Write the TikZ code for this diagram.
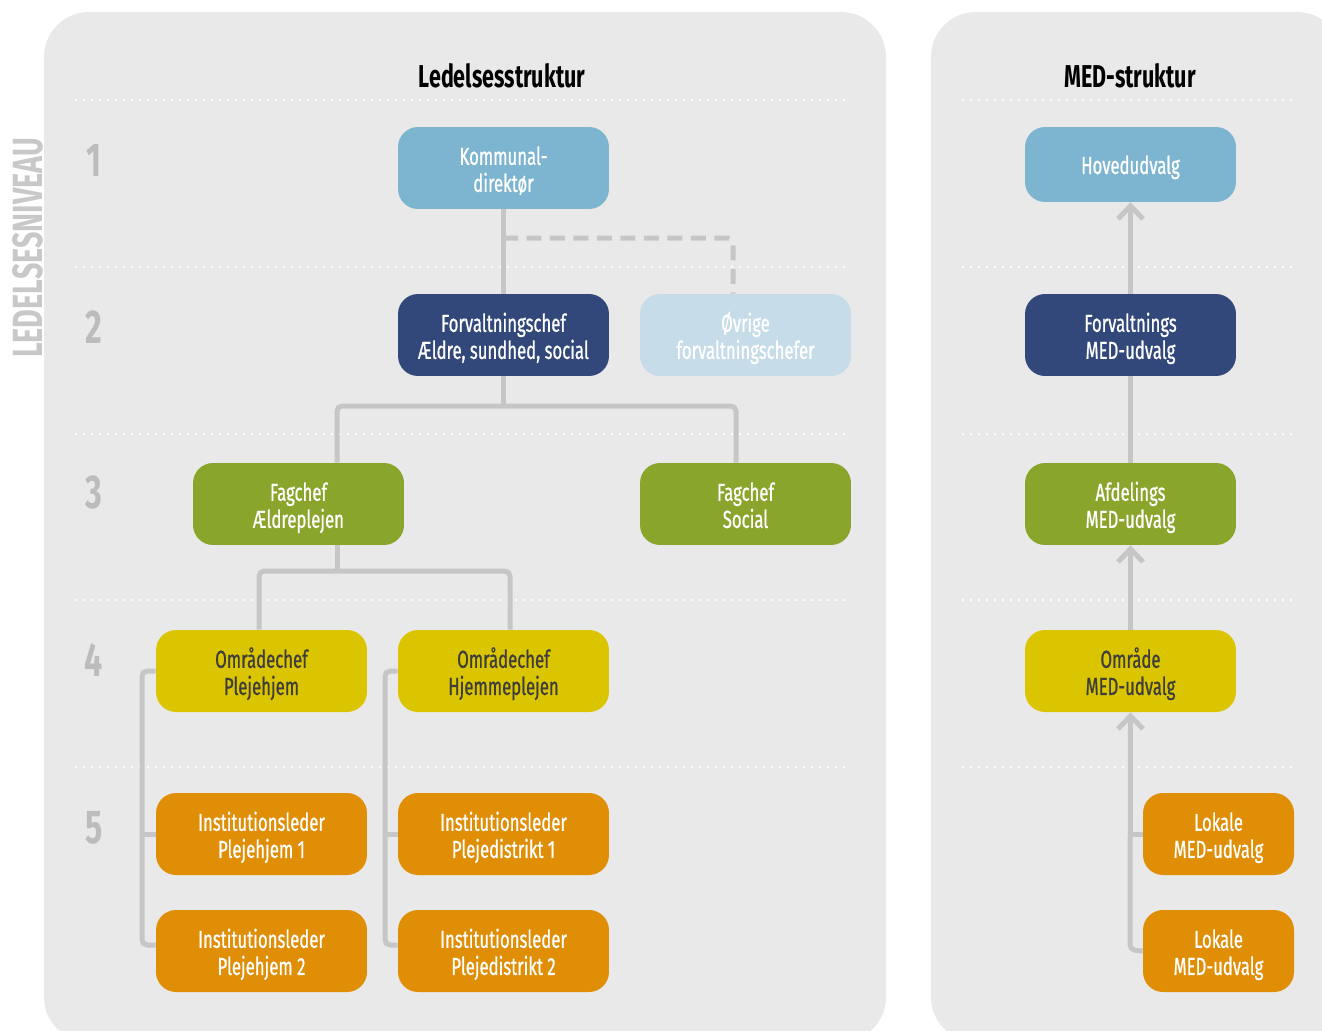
\documentclass[tikz,border=0pt]{standalone}
\usepackage{fontspec}
\setmainfont{Fira Sans}[FakeStretch=0.68]
\usetikzlibrary{arrows.meta,calc}
\definecolor{panelc}{HTML}{E9E9E9}
\definecolor{connc}{HTML}{C6C6C6}
\definecolor{lblue}{HTML}{7DB5D0}
\definecolor{navy}{HTML}{32487A}
\definecolor{pale}{HTML}{C6DCE8}
\definecolor{grn}{HTML}{8AA52B}
\definecolor{ylw}{HTML}{DBC500}
\definecolor{orng}{HTML}{E08E06}
\definecolor{ytext}{HTML}{3D3D3D}
\definecolor{numc}{HTML}{BCBCBC}
\definecolor{sidec}{HTML}{C8C8C8}
\tikzset{
  box/.style={rounded corners=0.4cm, minimum width=4.22cm, minimum height=1.64cm,
    align=center, inner sep=0pt, text=white,
    font=\fontsize{14}{15.4}\selectfont\addfontfeatures{FakeBold=0.8},
    text height=27.2pt, text depth=0pt},
  smallbox/.style={box, minimum width=3.02cm},
  conn/.style={draw=connc, line width=0.1cm},
  dotline/.style={draw=white, line width=0.055cm, line cap=round, dash pattern=on 0pt off 0.16cm},
  dashconn/.style={conn, dash pattern=on 0.3cm off 0.17cm},
  uptip/.style={-{Straight Barb[length=0.26cm, width=0.5cm]}},
  ttl/.style={font=\fontsize{18}{20}\selectfont\bfseries},
  lvl/.style={text=numc, font=\fontsize{27}{30}\selectfont\bfseries},
}
\begin{document}
\begin{tikzpicture}[x=0.02cm, y=-0.02cm]
\clip (0,0) rectangle (1322,1031);
\fill[white] (0,0) rectangle (1322,1031);
% panels
\fill[panelc, rounded corners=0.9cm] (44,12) rectangle (886,1042);
\fill[panelc, rounded corners=0.9cm] (931,12) rectangle (1342,1042);
% titles
\node[ttl] (t1) at (502,76) {Ledelsesstruktur};
\node[ttl] (t2) at (1130,76) {MED-struktur};
% dotted lines
\foreach \yy in {100,267,434,600,767} {
  \draw[dotline] (76,\yy) -- (850,\yy);
  \draw[dotline] (963,\yy) -- (1298,\yy);
}
% side label and level numbers
\node[rotate=90, text=sidec, font=\fontsize{24}{26}\selectfont\bfseries] (side) at (28,248) {LEDELSESNIVEAU};
\node[lvl] (n1) at (94,160) {1};
\node[lvl] (n2) at (94,327) {2};
\node[lvl] (n3) at (94,493) {3};
\node[lvl] (n4) at (94,660) {4};
\node[lvl] (n5) at (94,828) {5};
% junction coordinates
\coordinate (d1) at (503,238);
\coordinate (d2) at (733,238);
\coordinate (j1l) at (337,406);
\coordinate (j1r) at (736,406);
\coordinate (j2l) at (259,571);
\coordinate (j2r) at (510,571);
\coordinate (b1t) at (142,671);
\coordinate (b1b) at (142,945);
\coordinate (b2t) at (385,671);
\coordinate (b2b) at (385,945);
\coordinate (rb) at (1130,950);
% left boxes
\node[box, fill=lblue] (kd) at (503.5,168) {Kommunal-\\direktør};
\node[box, fill=navy] (fc) at (503.5,335) {Forvaltningschef\\Ældre, sundhed, social};
\node[box, fill=pale] (ov) at (745.5,335) {Øvrige\\forvaltningschefer};
\node[box, fill=grn] (fae) at (298.5,504) {Fagchef\\Ældreplejen};
\node[box, fill=grn] (fs) at (745.5,504) {Fagchef\\Social};
\node[box, fill=ylw, text=ytext] (op) at (261.5,671) {Områdechef\\Plejehjem};
\node[box, fill=ylw, text=ytext] (oh) at (503.5,671) {Områdechef\\Hjemmeplejen};
\node[box, fill=orng] (pl1) at (261.5,834) {Institutionsleder\\Plejehjem 1};
\node[box, fill=orng] (pl2) at (261.5,951) {Institutionsleder\\Plejehjem 2};
\node[box, fill=orng] (pd1) at (503.5,834) {Institutionsleder\\Plejedistrikt 1};
\node[box, fill=orng] (pd2) at (503.5,951) {Institutionsleder\\Plejedistrikt 2};
% right boxes
\node[box, fill=lblue, minimum height=1.5cm, text height=10.8pt] (hov) at (1130.5,164.5) {Hovedudvalg};
\node[box, fill=navy] (fmed) at (1130.5,335) {Forvaltnings\\MED-udvalg};
\node[box, fill=grn] (amed) at (1130.5,504) {Afdelings\\MED-udvalg};
\node[box, fill=ylw, text=ytext] (omed) at (1130.5,671) {Område\\MED-udvalg};
\node[smallbox, fill=orng] (lok1) at (1218.5,834) {Lokale\\MED-udvalg};
\node[smallbox, fill=orng] (lok2) at (1218.5,951) {Lokale\\MED-udvalg};
% left connectors
\draw[conn] (kd.south) -- (fc.north);
\draw[dashconn, rounded corners=3pt] (d1) -- (d2) -- (ov.north -| d2);
\draw[conn] (fc.south) -- (fc.south |- j1l);
\draw[conn, rounded corners=3pt] (fae.north -| j1l) -- (j1l) -- (j1r) -- (fs.north -| j1r);
\draw[conn] (fae.south -| j1l) -- (j1l |- j2l);
\draw[conn, rounded corners=3pt] (op.north -| j2l) -- (j2l) -- (j2r) -- (oh.north -| j2r);
\draw[conn, rounded corners=3pt] (op.west) -- (b1t) -- (b1b) -- (pl2.west |- b1b);
\draw[conn] (b1t |- pl1.west) -- (pl1.west);
\draw[conn, rounded corners=3pt] (oh.west) -- (b2t) -- (b2b) -- (pd2.west |- b2b);
\draw[conn] (b2t |- pd1.west) -- (pd1.west);
% right connectors
\draw[conn, uptip] (fmed.north) -- (hov.south);
\draw[conn] (amed.north) -- (fmed.south);
\draw[conn, uptip] (omed.north) -- (amed.south);
\draw[conn, uptip, rounded corners=3pt] (lok2.west) -- (rb) -- (omed.south);
\draw[conn] (lok1.west) -- (lok1.west -| rb);
\end{tikzpicture}
\end{document}
